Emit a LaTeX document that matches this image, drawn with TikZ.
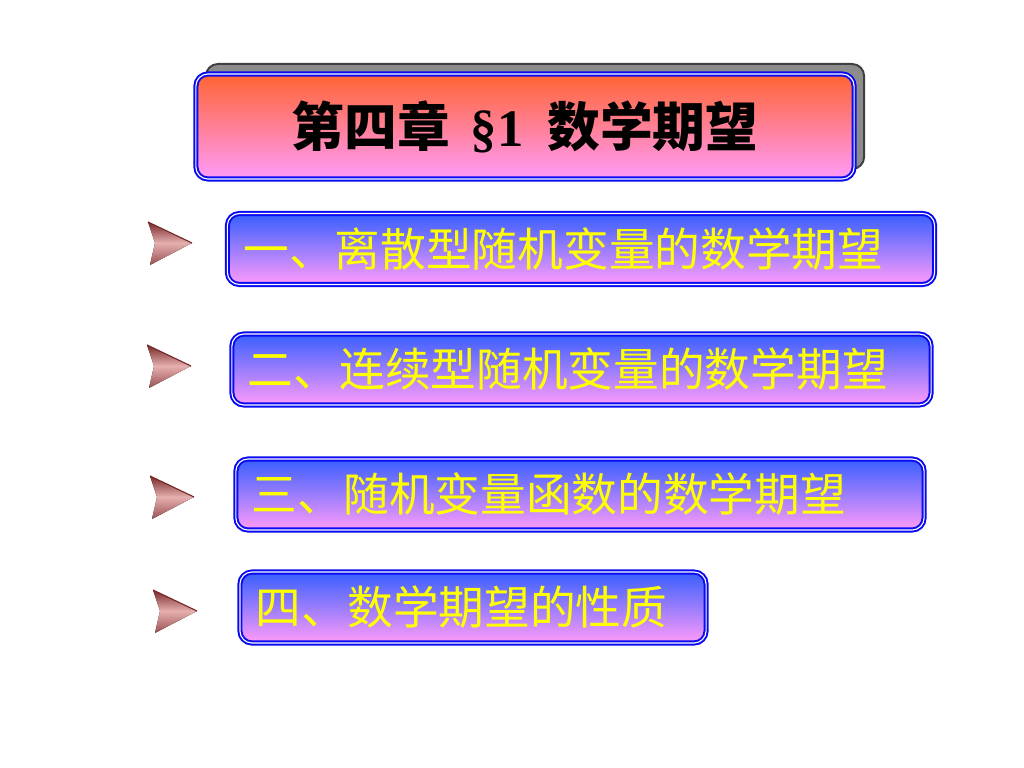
\documentclass[tikz,border=0pt]{standalone}
\usepackage{fontspec}
\newfontfamily\cjk{Noto Sans CJK SC}
\newfontfamily\latin{Liberation Serif}
\usetikzlibrary{shadows}
\definecolor{boxtop}{RGB}{55,95,255}
\definecolor{boxbot}{RGB}{255,155,250}
\definecolor{titletop}{RGB}{255,100,50}
\definecolor{rim}{RGB}{10,10,240}
\definecolor{itemtext}{RGB}{255,255,0}
\definecolor{shadowgray}{RGB}{140,140,140}
\definecolor{arrowdark}{RGB}{120,40,40}
\definecolor{arrowpink}{RGB}{230,175,175}
\tikzset{
  panel/.style={rounded corners=0.3cm, draw=rim, double=white,
    line width=1.4pt, double distance=0.8pt, inner ysep=0pt},
  itembox/.style={panel, top color=boxtop, bottom color=boxbot,
    minimum height=1.775cm, inner xsep=0.4cm, align=left,
    text=itemtext, font=\cjk\fontsize{32.5}{36}\selectfont},
  titlebox/.style={panel, top color=titletop, bottom color=boxbot,
    minimum width=16.45cm, minimum height=2.625cm,
    font=\cjk\bfseries\fontsize{37.5}{42}\selectfont,
    drop shadow={shadow xshift=0.25cm, shadow yshift=0.25cm,
      fill=shadowgray, draw=gray!50!black, opacity=1}}
}
\begin{document}
\begin{tikzpicture}[x=0.025cm, y=-0.025cm]
  \useasboundingbox (0,0) rectangle (1024,768);
  % title
  \node[titlebox] (title) at (525,126.5)
    {第四章\hspace{0.4em}{\latin\bfseries\S1}\hspace{0.45em}数学期望\hspace{0.3em}};
  % the four parts
  \node[itembox, text width=16.875cm] (item1) at (581,249)
    {一、离散型随机变量的数学期望};
  \node[itembox, text width=16.675cm] (item2) at (581.5,369.5)
    {二、连续型随机变量的数学期望};
  \node[itembox, text width=16.4cm] (item3) at (580,494.5)
    {三、随机变量函数的数学期望};
  \node[itembox, text width=10.85cm] (item4) at (473,607.5)
    {四、数学期望的性质};
  % pointers in front of the parts
  \foreach \tx/\ty in {192/243, 191/366, 194/497, 197/611} {
    \fill[top color=arrowdark, bottom color=arrowpink]
      (\tx-44,\ty-21) -- (\tx,\ty) -- (\tx-37,\ty) -- cycle;
    \fill[top color=arrowpink, bottom color=arrowdark!70!arrowpink]
      (\tx-37,\ty) -- (\tx,\ty) -- (\tx-42,\ty+22) -- cycle;
    \draw[arrowdark, line width=0.8pt] (\tx-44,\ty-21) -- (\tx,\ty);
  }
\end{tikzpicture}
\end{document}
